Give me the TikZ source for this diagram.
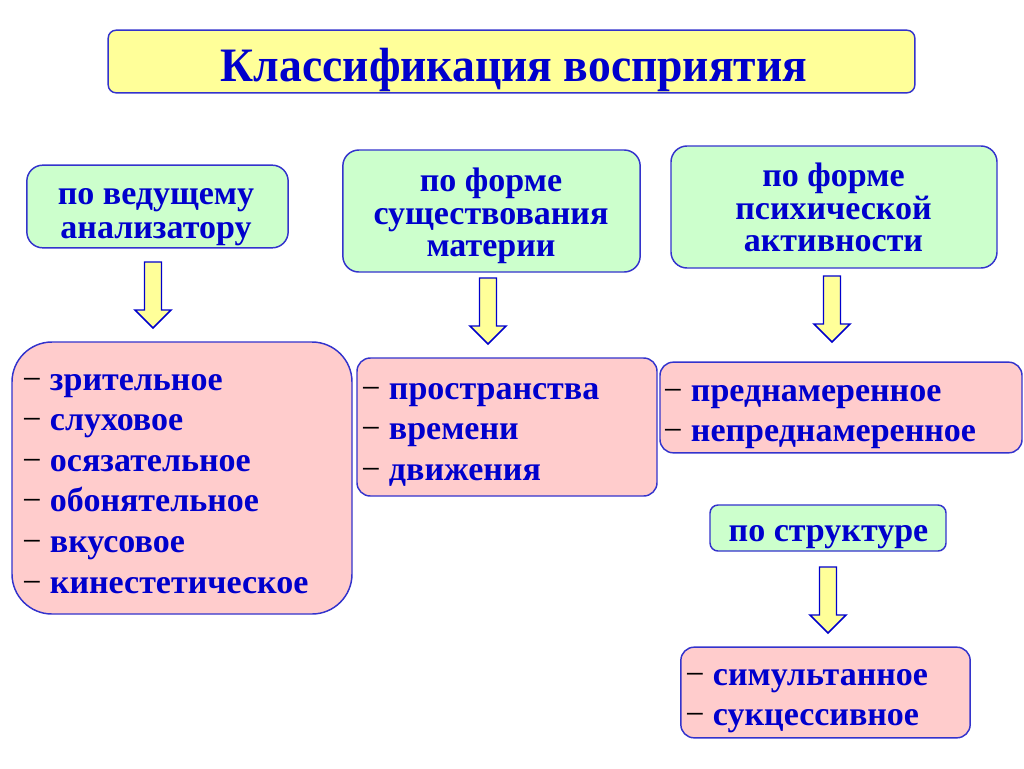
\documentclass[tikz,border=0pt]{standalone}
\usepackage{fontspec}
\setmainfont{Liberation Serif}
\newfontfamily\titlefont[FakeStretch=0.95]{Liberation Serif}
\usetikzlibrary{positioning}
\definecolor{txtblue}{HTML}{0000CC}
\definecolor{lineblue}{HTML}{3333CC}
\definecolor{titleyellow}{HTML}{FFFF99}
\definecolor{headgreen}{HTML}{CCFFCC}
\definecolor{listpink}{HTML}{FFCCCC}
\newcommand{\dd}{{\mdseries\color{black}\char"2212}\ }
\tikzset{
  box/.style={draw=lineblue, line width=1.1pt, inner sep=0pt},
  titlebox/.style={box, fill=titleyellow, rounded corners=6pt},
  headbox/.style={box, fill=headgreen, rounded corners=12pt},
  listbox/.style={box, fill=listpink, rounded corners=10pt},
  headtext/.style={anchor=base, inner sep=0pt, text=txtblue, font=\bfseries\fontsize{25.5}{30}\selectfont},
  item/.style={headtext, anchor=base west},
  arrowbox/.style={draw=txtblue, line width=1.1pt, fill=titleyellow}
}
\begin{document}
\begin{tikzpicture}[x=0.75pt,y=-0.75pt]
	\useasboundingbox (0,0) rectangle (1024,768);
	% title
	\node[titlebox, minimum width=605pt, minimum height=47pt] (title) at (511.5,61.5) {};
	\node[headtext, font=\titlefont\bfseries\fontsize{36}{40}\selectfont] (title-t) at (514,81.7) {Классификация восприятия};
	% headers
	\node[headbox, minimum width=196pt, minimum height=62pt] (analyz) at (157.5,206.5) {};
	\node[headbox, minimum width=223pt, minimum height=91.5pt] (materia) at (491.5,211) {};
	\node[headbox, minimum width=244.5pt, minimum height=91.5pt] (activ) at (834,207) {};
	\node[headbox, rounded corners=6pt, minimum width=177pt, minimum height=34.5pt] (struct) at (828,528) {};
	\foreach \w [count=\i from 0] in {по ведущему, анализатору}
		\node[headtext] (analyz-\i) at (156,204.5+33.5*\i) {\w};
	\foreach \w [count=\i from 0] in {по форме, существования, материи}
		\node[headtext] (materia-\i) at (491,191.5+32.5*\i) {\w};
	\foreach \w [count=\i from 0] in {по форме, психической, активности}
		\node[headtext] (activ-\i) at (833.5,186.5+32.5*\i) {\w};
	\node[headtext] (struct-t) at (828.5,541.5) {по структуре};
	% lists
	\node[listbox, rounded corners=30pt, minimum width=255pt, minimum height=204pt] (sense) at (182,478) {};
	\node[listbox, minimum width=225pt, minimum height=103.5pt] (space) at (507,427) {};
	\node[listbox, minimum width=271.5pt, minimum height=68pt] (intent) at (841,407.5) {};
	\node[listbox, minimum width=217pt, minimum height=68pt] (simul) at (825.5,692.5) {};
	\foreach \w [count=\i from 0] in {зрительное, слуховое, осязательное, обонятельное, вкусовое, кинестетическое}
		\node[item] (sense-\i) at (22,390+40.6*\i) {\dd\w};
	\foreach \w [count=\i from 0] in {пространства, времени, движения}
		\node[item] (space-\i) at (361,399.5+40.3*\i) {\dd\w};
	\foreach \w [count=\i from 0] in {преднамеренное, непреднамеренное}
		\node[item] (intent-\i) at (663,401.5+40.2*\i) {\dd\w};
	\foreach \w [count=\i from 0] in {симультанное, сукцессивное}
		\node[item] (simul-\i) at (685,685+40*\i) {\dd\w};
	% block arrows
	\foreach \ax/\ay in {153/262, 488/278, 832/276, 828/567}
		\draw[arrowbox] (\ax-8.5,\ay) -- (\ax+8.5,\ay) -- (\ax+8.5,\ay+48) -- (\ax+18,\ay+48) -- (\ax,\ay+66) -- (\ax-18,\ay+48) -- (\ax-8.5,\ay+48) -- cycle;
\end{tikzpicture}
\end{document}
